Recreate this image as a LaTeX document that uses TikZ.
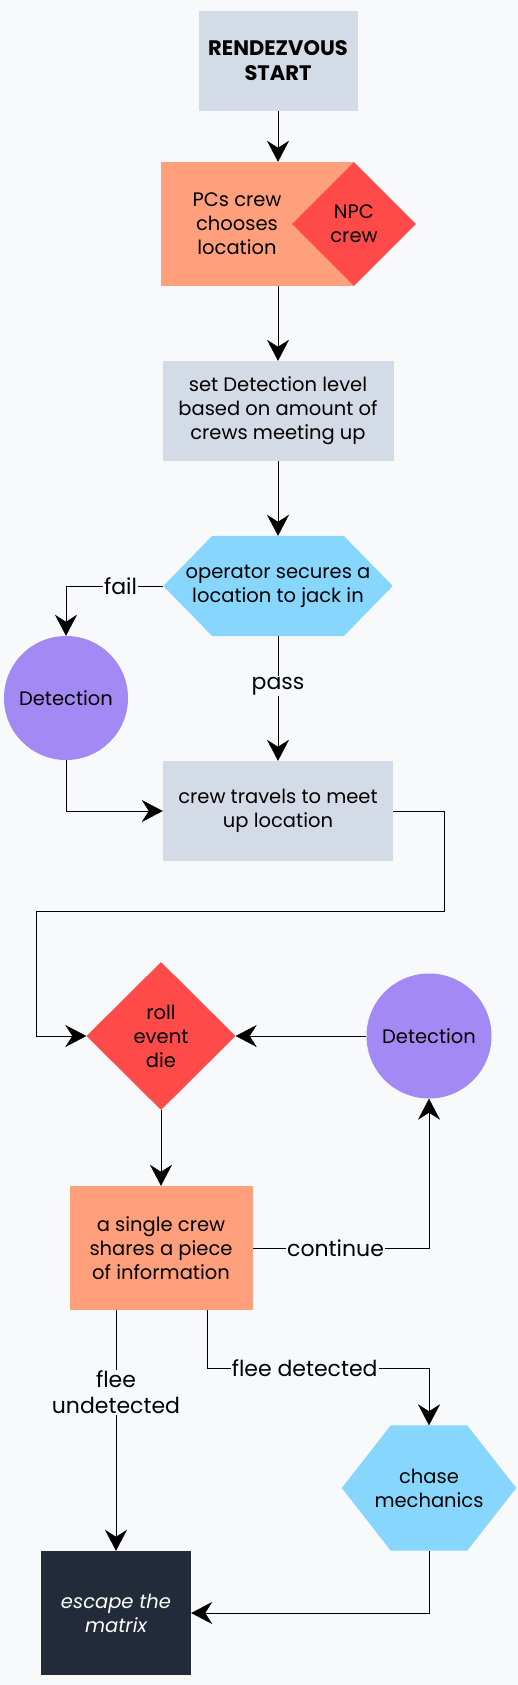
\documentclass[tikz,border=0pt]{standalone}
\usepackage{fontspec}
\setmainfont{Poppins}
\usetikzlibrary{arrows.meta,shapes.geometric}
\definecolor{bgcol}{HTML}{F8F9FB}
\definecolor{greyfill}{HTML}{D3DBE6}
\definecolor{orangefill}{HTML}{FF9F7B}
\definecolor{redfill}{HTML}{FF4A4A}
\definecolor{bluefill}{HTML}{87D6FE}
\definecolor{purplefill}{HTML}{A389F4}
\definecolor{darkfill}{HTML}{212B3A}
\pgfdeclarelayer{back}
\pgfsetlayers{back,main}
% hexagon behind a rectangle node: #1 node, #2 slant
\newcommand{\hexfill}[2]{%
  \begin{pgfonlayer}{back}
    \fill[bluefill] (#1.west) -- ([xshift=#2]#1.north west) -- ([xshift=-#2]#1.north east) -- (#1.east)
      -- ([xshift=-#2]#1.south east) -- ([xshift=#2]#1.south west) -- cycle;
  \end{pgfonlayer}}

\begin{document}
\begin{tikzpicture}[x=1pt, y=-1pt, line width=2pt, font=\fontsize{19.5}{24}\selectfont,
    >={Stealth[length=21pt, width=22pt, inset=7pt]},
    box/.style={rectangle, inner sep=0pt, align=center},
    lbl/.style={fill=bgcol, inner sep=1pt, align=center, font=\fontsize{22}{26}\selectfont}]
        \begin{pgfonlayer}{back}
            \fill[bgcol] (0,0) rectangle (518,1685);
        \end{pgfonlayer}
        \useasboundingbox (0,0) rectangle (518,1685);
        \node(100) at (278,61) [box, fill=greyfill, minimum width=159pt, minimum height=100pt, font=\fontsize{21}{25}\selectfont\bfseries] {RENDEZVOUS\\START};
        \node(101) at (257.5,224) [box, fill=orangefill, minimum width=193pt, minimum height=124pt] {};
        \node(102) at (354,224) [diamond, aspect=1, fill=redfill, inner sep=0pt, minimum width=124pt, minimum height=124pt, align=center] {NPC\\crew};
        \node(112) at (237,224) [align=center, inner sep=0pt] {PCs crew\\chooses\\location};
        \draw [->] (100) -- (100.south |- 101.north);
        \node(103) at (278,411) [box, fill=greyfill, minimum width=231pt, minimum height=100pt] {set Detection level\\based on amount of\\crews meeting up};
        \draw [->] (103.north |- 101.south) -- (103);
        \node(104) at (278,586) [box, minimum width=229pt, minimum height=100pt] {operator secures a\\location to jack in};
        \hexfill{104}{49pt}
        \draw [->] (103) -- (104);
        \node(105) at (66,698) [circle, fill=purplefill, inner sep=0pt, minimum size=124pt] {Detection};
        \node(106) at (278,811) [box, fill=greyfill, minimum width=230pt, minimum height=100pt] {crew travels to meet\\up location};
        \draw [->] (104) -| node[pos=0.22, lbl] {fail} (105);
        \draw [->] (104) -- node[pos=0.4, lbl] {pass} (106);
        \draw [->] (105) |- (106);
        \node(107) at (161,1036) [diamond, aspect=1, fill=redfill, inner sep=0pt, minimum width=149pt, minimum height=148pt, align=center] {roll\\event\\die};
        \node(108) at (429,1036) [circle, fill=purplefill, inner sep=0pt, minimum size=125pt] {Detection};
        \draw [->] (106.east) -- ++(51,0) -- ++(0,100) -- ++(-408,0) |- (107);
        \draw [->] (108) -- (107);
        \node(109) at (161,1248) [box, fill=orangefill, minimum width=183pt, minimum height=124pt] {a single crew\\shares a piece\\of information};
        \draw [->] (107) -- (109);
        \draw [->] (109) -| node[pos=0.235, lbl] {continue} (108);
        \node(110) at (429,1488) [box, minimum width=174pt, minimum height=125pt] {chase\\mechanics};
        \hexfill{110}{49pt}
        \node(111) at (116,1613) [box, fill=darkfill, text=white, minimum width=150pt, minimum height=124pt, font=\fontsize{19.5}{24}\selectfont\itshape] {escape the\\matrix};
        \draw [->] ([xshift=-45pt]109.south) -- node[pos=0.34, lbl] {flee\\undetected} (111);
        \draw [->] ([xshift=46pt]109.south) -- ++(0,58) -| node[pos=0.22, lbl] {flee detected} (110);
        \draw [->] (110) |- (111);
    \end{tikzpicture}
\end{document}
